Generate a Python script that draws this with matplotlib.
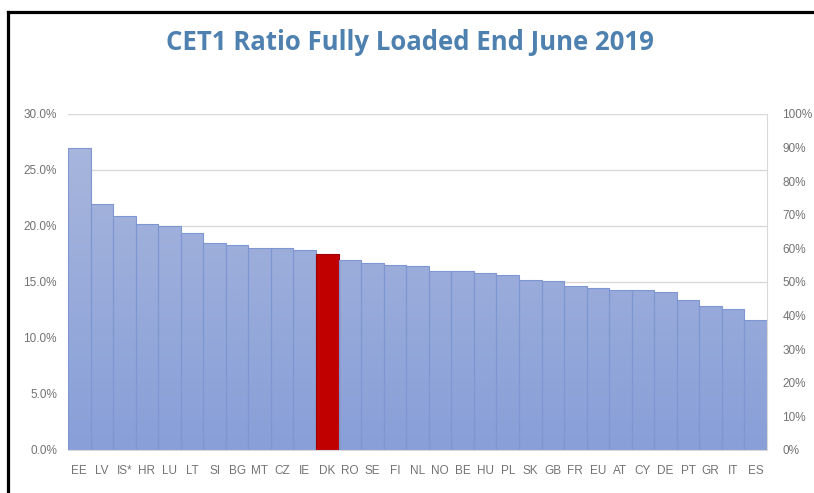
import matplotlib
matplotlib.use('Agg')
import matplotlib.pyplot as plt
import numpy as np
from matplotlib.lines import Line2D
from matplotlib.colors import LinearSegmentedColormap

## Data
countries = ['EE', 'LV', 'IS*', 'HR', 'LU', 'LT', 'SI', 'BG', 'MT', 'CZ', 'IE', 'DK',
             'RO', 'SE', 'FI', 'NL', 'NO', 'BE', 'HU', 'PL', 'SK', 'GB', 'FR', 'EU',
             'AT', 'CY', 'DE', 'PT', 'GR', 'IT', 'ES']
cet1 = [27.0, 22.0, 20.9, 20.2, 20.0, 19.4, 18.5, 18.3, 18.0, 18.0, 17.9, 17.5,
        17.0, 16.7, 16.5, 16.4, 16.0, 16.0, 15.8, 15.65, 15.2, 15.1, 14.6, 14.5,
        14.3, 14.3, 14.1, 13.4, 12.9, 12.6, 11.6]
highlight = 'DK'

left_ticks = [0, 5, 10, 15, 20, 25, 30]
right_ticks = [0, 10, 20, 30, 40, 50, 60, 70, 80, 90, 100]

tick_font = ['Liberation Sans', 'DejaVu Sans']
grey = '#737373'
fs = 8.5

fig = plt.figure(figsize=(8.14, 4.93), dpi=100)
ax = fig.add_axes([68/814, 43/493, 699/814, 336/493])

x = np.arange(len(countries))
bars = ax.bar(x, cet1, width=1.0, color='#9AABDA', edgecolor='#7E96D2', linewidth=0.8, zorder=2)

## gradient fill, lighter at the top
grad = LinearSegmentedColormap.from_list('g', ['#889FD8', '#AAB8DD'])
for b, c in zip(bars, countries):
    if c == highlight:
        b.set_facecolor('#C00000')
        b.set_edgecolor('#A00000')
        continue
    b.set_facecolor('none')
    x0, w, h = b.get_x(), b.get_width(), b.get_height()
    img = ax.imshow(np.linspace(0, 1, 100).reshape(-1, 1) * (h / 30.0), cmap=grad,
                    vmin=0, vmax=1, origin='lower', aspect='auto',
                    extent=(x0, x0 + w, 0, h), zorder=1.5)
    img.set_clip_path(b)

ax.set_xlim(-0.5, len(countries) - 0.5)
ax.set_ylim(0, 30)
ax.set_yticks(left_ticks)
ax.set_yticklabels(['%.1f%%' % t for t in left_ticks], family=tick_font, fontsize=fs, color=grey)
ax.set_xticks(x)
ax.set_xticklabels(countries, family=tick_font, fontsize=fs, color=grey)
ax.tick_params(length=0, pad=11)
ax.tick_params(axis='y', pad=8)
ax.yaxis.grid(True, color='#D9D9D9', linewidth=1.0, zorder=0)
ax.set_axisbelow(True)
for s in ['left', 'top']:
    ax.spines[s].set_visible(False)
ax.spines['right'].set_color('#D9D9D9')
ax.spines['bottom'].set_color('#D9D9D9')

ax2 = ax.twinx()
ax2.set_ylim(0, 100)
ax2.set_yticks(right_ticks)
ax2.set_yticklabels(['%d%%' % t for t in right_ticks], family=tick_font, fontsize=fs, color=grey)
ax2.tick_params(length=0, pad=11)
for s in ax2.spines.values():
    s.set_visible(False)

fig.text(410/814, 1 - 42/493, 'CET1 Ratio Fully Loaded End June 2019', ha='center', va='center',
         fontsize=18.5, fontweight='bold', color='#4E81AF', family=['Open Sans', 'DejaVu Sans'])

## black frame at top and left
fig.add_artist(Line2D([8/814, 812/814], [1 - 12/493, 1 - 12/493], color='black', lw=2.3,
                      transform=fig.transFigure))
fig.add_artist(Line2D([8/814, 8/814], [0, 1 - 12/493], color='black', lw=2.3,
                      transform=fig.transFigure))

plt.savefig('out.png', dpi=100)
